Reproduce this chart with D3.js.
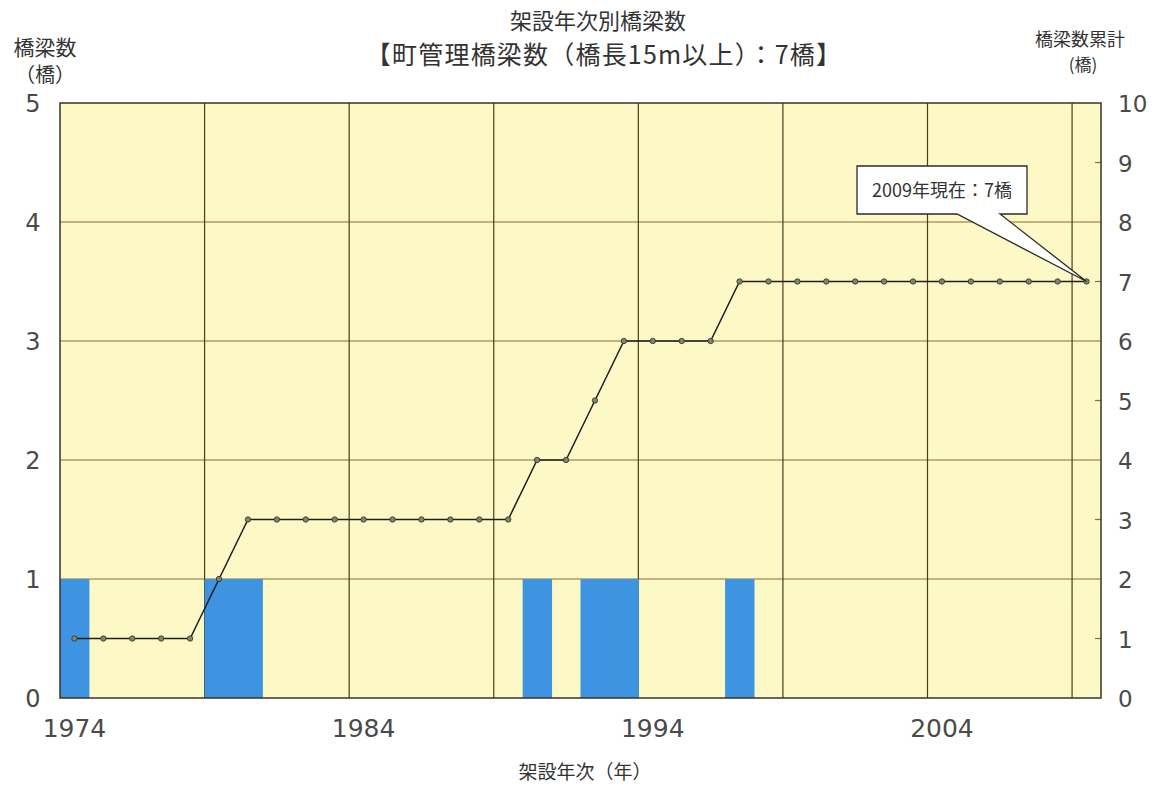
<!DOCTYPE html>
<html>
<head>
<meta charset="utf-8">
<script src="https://cdn.jsdelivr.net/npm/d3@7"></script>
<style>
  body { margin: 0; background: #fff; }
  text { font-family: "Noto Sans CJK JP", "Noto Sans", sans-serif; fill: #333; }
  .num { font-family: "DejaVu Sans", sans-serif; fill: #4a4a4a; }
</style>
</head>
<body>
<main></main>
<script>
const width = 1153;
const height = 787;
const margin = {top: 103, right: 52, bottom: 90, left: 60};

// 架設年次
const years = [1974, 1975, 1976, 1977, 1978, 1979, 1980, 1981, 1982, 1983,
  1984, 1985, 1986, 1987, 1988, 1989, 1990, 1991, 1992, 1993,
  1994, 1995, 1996, 1997, 1998, 1999, 2000, 2001, 2002, 2003,
  2004, 2005, 2006, 2007, 2008, 2009];
// 橋梁数
const counts = [1, 0, 0, 0, 0, 1, 1, 0, 0, 0,
  0, 0, 0, 0, 0, 0, 1, 0, 1, 1,
  0, 0, 0, 1, 0, 0, 0, 0, 0, 0,
  0, 0, 0, 0, 0, 0];
// 橋梁数累計
const cumulative = [1, 1, 1, 1, 1, 2, 3, 3, 3, 3,
  3, 3, 3, 3, 3, 3, 4, 4, 5, 6,
  6, 6, 6, 7, 7, 7, 7, 7, 7, 7,
  7, 7, 7, 7, 7, 7];
const xTickYears = [1974, 1984, 1994, 2004];
const leftTicks = [0, 1, 2, 3, 4, 5];
const rightTicks = [0, 1, 2, 3, 4, 5, 6, 7, 8, 9, 10];
const gridEvery = 5;

const svg = d3.select('main').append('svg')
  .attr('width', width)
  .attr('height', height);

const x0 = margin.left, x1 = width - margin.right;
const y0 = height - margin.bottom + 1, y1 = margin.top;

const x = d3.scaleBand().domain(years).range([x0, x1]).padding(0);
const yL = d3.scaleLinear().domain([0, 5]).range([y0, y1]);
const yR = d3.scaleLinear().domain([0, 10]).range([y0, y1]);

// background
svg.append('rect')
  .attr('x', x0).attr('y', y1)
  .attr('width', x1 - x0).attr('height', y0 - y1)
  .attr('fill', '#fdf9c6');

// horizontal grid
svg.append('g')
  .selectAll('line')
  .data(leftTicks.slice(1, -1))
  .join('line')
  .attr('x1', x0).attr('x2', x1)
  .attr('y1', d => yL(d)).attr('y2', d => yL(d))
  .attr('stroke', '#8c6a3a').attr('stroke-width', 1.2);

// vertical grid
svg.append('g')
  .selectAll('line')
  .data(years.filter((d, i) => i > 0 && i % gridEvery === 0))
  .join('line')
  .attr('x1', d => x(d)).attr('x2', d => x(d))
  .attr('y1', y1).attr('y2', y0)
  .attr('stroke', '#4a3c1c').attr('stroke-width', 1.2);

// bars
svg.append('g')
  .selectAll('rect')
  .data(years.map((d, i) => ({year: d, v: counts[i]})).filter(d => d.v > 0))
  .join('rect')
  .attr('x', d => x(d.year))
  .attr('y', d => yL(d.v))
  .attr('width', x.bandwidth() + 0.5)
  .attr('height', d => y0 - yL(d.v))
  .attr('fill', '#3e94e0');

// right axis inner ticks
svg.append('g')
  .selectAll('line')
  .data(rightTicks.filter(d => d % 2 === 1))
  .join('line')
  .attr('x1', x1 - 6).attr('x2', x1)
  .attr('y1', d => yR(d)).attr('y2', d => yR(d))
  .attr('stroke', '#8c6a3a').attr('stroke-width', 1.2);

// frame
svg.append('rect')
  .attr('x', x0).attr('y', y1)
  .attr('width', x1 - x0).attr('height', y0 - y1)
  .attr('fill', 'none')
  .attr('stroke', '#3a3226').attr('stroke-width', 1.5);

// cumulative line
const pts = years.map((d, i) => ({year: d, v: cumulative[i]}));
const line = d3.line()
  .x(d => x(d.year) + x.bandwidth() / 2)
  .y(d => yR(d.v));

svg.append('path')
  .datum(pts)
  .attr('d', line)
  .attr('fill', 'none')
  .attr('stroke', '#1e1e1e').attr('stroke-width', 1.5);

svg.append('g')
  .selectAll('circle')
  .data(pts)
  .join('circle')
  .attr('cx', d => x(d.year) + x.bandwidth() / 2)
  .attr('cy', d => yR(d.v))
  .attr('r', 2.7)
  .attr('fill', '#7d8a6a')
  .attr('stroke', '#2c2c2c').attr('stroke-width', 0.8);

// left tick labels
svg.append('g')
  .selectAll('text')
  .data(leftTicks)
  .join('text')
  .attr('class', 'num')
  .attr('x', 33).attr('y', d => yL(d) + 9)
  .attr('text-anchor', 'middle')
  .style('font-size', '24px')
  .text(d => d);

// right tick labels
svg.append('g')
  .selectAll('text')
  .data(rightTicks)
  .join('text')
  .attr('class', 'num')
  .attr('x', 1118).attr('y', d => yR(d) + 9)
  .attr('text-anchor', 'start')
  .style('font-size', '23px')
  .text(d => d);

// x tick labels
svg.append('g')
  .selectAll('text')
  .data(xTickYears)
  .join('text')
  .attr('class', 'num')
  .attr('x', d => x(d) + x.bandwidth() / 2)
  .attr('y', 737)
  .attr('text-anchor', 'middle')
  .style('font-size', '25px')
  .text(d => d);

// titles
const label = (txt, xx, yy, size, spacing) => svg.append('text')
  .attr('x', xx).attr('y', yy)
  .attr('text-anchor', 'middle')
  .style('font-size', size + 'px')
  .style('letter-spacing', (spacing || 0) + 'px')
  .text(txt);

label('架設年次別橋梁数', 598, 29, 22);
label('【町管理橋梁数（橋長15m以上）：7橋】', 604, 64, 25, 1.2);
label('橋梁数', 45, 55, 21);
label('（橋）', 45, 82, 20);
label('橋梁数累計', 1080, 46, 18);
label('(橋)', 1083, 71, 17);
label('架設年次（年）', 585, 779, 19);

// callout
const last = pts[pts.length - 1];
const tipX = x(last.year) + x.bandwidth() / 2, tipY = yR(last.v);
const bx = 857, by = 166, bw = 170, bh = 48;
svg.append('path')
  .attr('d', `M${bx},${by} H${bx + bw} V${by + bh} H${1000} L${tipX},${tipY} L${957},${by + bh} H${bx} Z`)
  .attr('fill', '#fff')
  .attr('stroke', '#2a2a2a').attr('stroke-width', 1.3);
label('2009年現在：7橋', bx + bw / 2, by + bh / 2 + 7, 18);
</script>
</body>
</html>
